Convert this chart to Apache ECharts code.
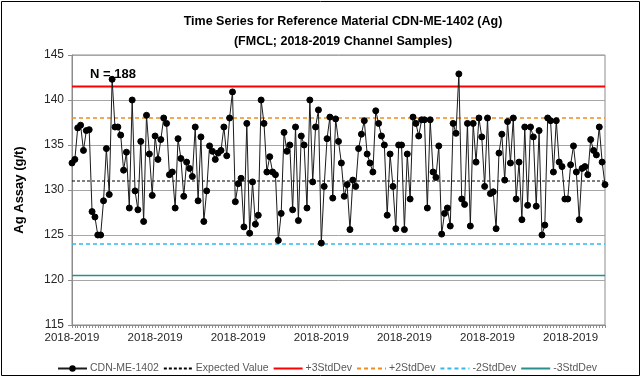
<!DOCTYPE html>
<html><head><meta charset="utf-8">
<script src="https://cdn.jsdelivr.net/npm/echarts@6/dist/echarts.min.js"></script>
<style>html,body{margin:0;padding:0;background:#fff}#c{width:642px;height:378px}</style>
</head><body><div id="c"></div>
<script>
const values = [
133.0,133.4,136.9,137.2,134.4,136.6,136.7,127.6,127.0,125.0,125.0,128.8,134.6,129.5,142.3,137.0,137.0,136.1,132.2,134.2,128.0,140.0,129.9,127.8,135.4,126.5,138.3,
134.0,129.4,136.0,133.4,135.6,138.0,137.4,131.7,132.0,128.0,135.7,133.5,129.3,133.1,132.4,131.5,137.0,128.8,135.9,126.5,129.9,134.9,134.3,133.4,134.1,134.4,137.0,133.8,138.0,140.9,128.7,
130.7,131.3,125.9,137.4,125.2,130.9,126.2,127.2,140.0,137.4,132.0,133.7,132.0,131.7,124.4,127.4,136.4,134.3,135.0,127.8,137.0,126.6,136.0,135.0,128.0,140.0,130.9,137.0,138.9,
124.1,130.4,135.7,138.1,129.1,137.9,135.4,133.0,129.3,130.6,125.6,131.1,130.4,134.6,136.2,137.7,134.0,133.0,132.0,138.8,137.4,136.0,135.0,127.2,134.0,130.4,125.7,135.0,135.0,
125.6,134.0,129.0,138.1,137.4,136.0,137.8,137.8,128.0,137.8,132.0,131.4,134.9,125.1,127.4,128.0,126.0,137.4,136.3,142.9,129.0,128.4,137.4,126.0,137.4,133.1,138.0,135.9,130.4,138.0,129.6,
129.8,125.7,134.1,136.2,131.1,137.6,133.0,138.0,129.0,133.1,126.7,137.0,128.3,137.0,135.9,128.2,136.6,125.0,126.1,138.0,137.7,132.0,137.7,133.1,132.6,129.0,129.0,132.8,134.9,132.0,
126.7,132.4,132.6,131.7,135.6,134.4,133.9,137.0,133.1,130.6
];
const categoryLabel = '2018-2019';
const categories = values.map(() => categoryLabel);
const refNames  = ['Expected Value', '+3StdDev', '+2StdDev', '-2StdDev', '-3StdDev'];
const refValues = [131.0, 141.5, 138.0, 124.0, 120.5];
const yTicks = [115, 120, 125, 130, 135, 140, 145];
const seriesName = 'CDN-ME-1402';
const nText = 'N = 188';

const refStyles = [
  {color:'#000000', type:[3,2], width:1.2},
  {color:'#ff0000', type:'solid', width:2},
  {color:'#f08c1e', type:[4,3], width:1.3},
  {color:'#33b8f0', type:[4,3], width:1.3},
  {color:'#2a8f8a', type:'solid', width:1.5}
];
const last = values.length - 1;
const refSeries = refNames.map((n, i) => ({
  name: n, type: 'line', symbol: 'none', silent: true,
  data: [[0, refValues[i]], [last, refValues[i]]],
  lineStyle: refStyles[i], itemStyle: {color: refStyles[i].color},
  z: 2, animation: false
}));

const chart = echarts.init(document.getElementById('c'), null, {renderer: 'canvas'});
chart.setOption({
  animation: false,
  backgroundColor: '#fff',
  textStyle: {fontFamily: 'Liberation Sans, Arial, sans-serif'},
  title: {
    text: 'Time Series for Reference Material CDN-ME-1402 (Ag)\n(FMCL; 2018-2019 Channel Samples)',
    left: 338, top: 7, textAlign: 'center',
    textStyle: {fontSize: 12.5, fontWeight: 'bold', color: '#000', lineHeight: 20, fontFamily: 'Liberation Sans, Arial, sans-serif'}
  },
  grid: {left: 72, right: 37, top: 55, bottom: 53, show: true, borderColor: '#8c8c8c', borderWidth: 1},
  legend: {
    left: 52, top: 358, itemWidth: 29, itemHeight: 8, itemGap: 4,
    textStyle: {fontSize: 10.5, color: '#595959', padding: [0,0,0,-2]},
    data: [{name: seriesName, itemStyle: {color: '#000'}}].concat(refNames.map(n => ({name: n, itemStyle: {opacity: 0}})))
  },
  xAxis: {
    type: 'category', data: categories, boundaryGap: false,
    axisLine: {lineStyle: {color: '#8c8c8c'}},
    axisTick: {show: true, interval: 0, length: 3, lineStyle: {color: '#8c8c8c'}},
    axisLabel: {interval: 28, color: '#262626', fontSize: 11.5, margin: 7},
    splitLine: {show: false}
  },
  yAxis: {
    type: 'value', min: yTicks[0], max: yTicks[yTicks.length-1], interval: 5,
    name: 'Ag Assay (g/t)', nameLocation: 'middle', nameGap: 46, nameRotate: 90,
    nameTextStyle: {fontSize: 13, fontWeight: 'bold', color: '#000'},
    axisLine: {show: true, lineStyle: {color: '#8c8c8c'}},
    axisTick: {show: true, length: 4, lineStyle: {color: '#8c8c8c'}},
    axisLabel: {color: '#262626', fontSize: 12, margin: 8},
    splitLine: {show: true, lineStyle: {color: '#a6a6a6', width: 1}}
  },
  graphic: [
    {type: 'rect', shape: {x: 1.5, y: 1.5, width: 638, height: 374}, style: {fill: 'none', stroke: '#000', lineWidth: 1}, silent: true},
    {type: 'text', left: 90, top: 68, style: {text: nText, font: 'bold 13px "Liberation Sans", Arial, sans-serif', fill: '#000'}, z: 10}
  ],
  series: [{
    name: seriesName, type: 'line', data: values,
    symbol: 'circle', symbolSize: 6, showAllSymbol: true,
    lineStyle: {color: '#1a1a1a', width: 1},
    itemStyle: {color: '#000', borderColor: '#000'},
    z: 5
  }].concat(refSeries)
});
</script></body></html>
